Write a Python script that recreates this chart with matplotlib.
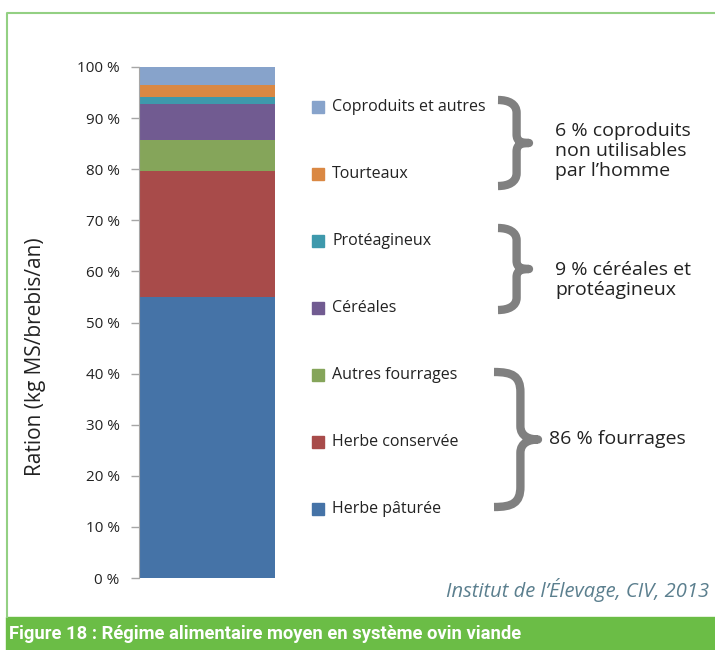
import matplotlib
matplotlib.use("Agg")
import matplotlib.pyplot as plt
from matplotlib.path import Path
from matplotlib.patches import PathPatch, Rectangle

categories = ["Herbe pâturée", "Herbe conservée", "Autres fourrages", "Céréales",
              "Protéagineux", "Tourteaux", "Coproduits et autres"]
shares = [55.0, 24.6, 6.1, 7.1, 1.3, 2.4, 3.5]
colors = ["#4573A7", "#A84B4A", "#85A55A", "#715B91", "#3E99AC", "#DA8843", "#87A3CB"]
yticks = [0, 10, 20, 30, 40, 50, 60, 70, 80, 90, 100]
ytick_labels = [f"{t} %" for t in yticks]

groups = ["6 % coproduits\nnon utilisables\npar l’homme",
          "9 % céréales et\nprotéagineux",
          "86 % fourrages"]

W, H = 715, 650
plt.rcParams["font.family"] = ["Open Sans", "DejaVu Sans"]

fig = plt.figure(figsize=(W / 100, H / 100), dpi=100)


def fx(px):
    return px / W


def fy(py):
    return 1 - py / H


ax = fig.add_axes([fx(139), fy(578), fx(275) - fx(139), fy(67) - fy(578)])

bottom = 0
for cat, val, col in zip(categories, shares, colors):
    ax.bar(0, val, width=1, bottom=bottom, color=col, label=cat)
    bottom += val

ax.set_xlim(-0.5, 0.5)
ax.set_ylim(0, 100)
ax.set_xticks([])
ax.set_yticks(yticks)
ax.set_yticklabels(ytick_labels, fontsize=11, color="#222222")
ax.tick_params(axis="y", length=6, width=1, color="#a6a6a6", pad=8)
for s in ["top", "right", "bottom"]:
    ax.spines[s].set_visible(False)
ax.spines["left"].set_color("#a6a6a6")

# y label sits a bit below the axes centre in the original
fig.text(fx(36), fy(357), "Ration (kg MS/brebis/an)", fontsize=15, color="#222222",
         rotation=90, ha="center", va="center")

# legend, top to bottom in reverse stacking order
for i, (cat, col) in enumerate(zip(categories[::-1], colors[::-1])):
    py = 107 + i * 67
    fig.patches.append(Rectangle((fx(312), fy(py + 6)), fx(12), 12 / H,
                                 transform=fig.transFigure, color=col))
    fig.text(fx(332), fy(py), cat, fontsize=11.5, color="#222222", va="center", ha="left")


def brace(x0, x1, y0, y1):
    # y0 top, y1 bottom in pixels
    xm = x0 + (x1 - x0) * 0.6
    ym = (y0 + y1) / 2
    h = y1 - y0
    pts = [(x0, y0), (xm - 8, y0), (xm, y0 + 4), (xm, y0 + 0.15 * h),
           (xm, ym - 0.1 * h),
           (xm, ym - 0.02 * h), (x1 - 8, ym), (x1, ym),
           (x1 - 8, ym), (xm, ym + 0.02 * h), (xm, ym + 0.1 * h),
           (xm, y1 - 0.15 * h),
           (xm, y1 - 4), (xm - 8, y1), (x0, y1)]
    codes = [Path.MOVETO, Path.CURVE4, Path.CURVE4, Path.CURVE4,
             Path.LINETO,
             Path.CURVE4, Path.CURVE4, Path.CURVE4,
             Path.CURVE4, Path.CURVE4, Path.CURVE4,
             Path.LINETO,
             Path.CURVE4, Path.CURVE4, Path.CURVE4]
    verts = [(fx(x), fy(y)) for x, y in pts]
    fig.patches.append(PathPatch(Path(verts, codes), transform=fig.transFigure,
                                 fill=False, lw=6, edgecolor="#808080",
                                 capstyle="butt", joinstyle="round"))


brace(498, 529, 100, 186)
brace(498, 529, 228, 310)
brace(494, 538, 372, 507)

fig.text(fx(555), fy(151), groups[0], fontsize=14, color="#222222",
         va="center", ha="left", linespacing=1.15)
fig.text(fx(555), fy(280), groups[1], fontsize=14, color="#222222",
         va="center", ha="left", linespacing=1.15)
fig.text(fx(549), fy(439), groups[2], fontsize=14, color="#222222",
         va="center", ha="left")

fig.text(fx(446), fy(590), "Institut de l’Élevage, CIV, 2013", fontsize=14.5,
         style="italic", color="#5b7f8e", va="center", ha="left")

# frame and caption banner
fig.add_artist(plt.Line2D([fx(7), fx(7), 1], [fy(617), fy(13), fy(13)],
                          transform=fig.transFigure, color="#93d083", lw=1.5))
fig.patches.append(Rectangle((fx(6), 0), 1, fy(617), transform=fig.transFigure,
                             color="#6bbd46"))
fig.text(fx(9), fy(634), "Figure 18 : Régime alimentaire moyen en système ovin viande",
         fontsize=13.2, fontweight="bold", color="white", va="center", ha="left",
         family=["Roboto", "DejaVu Sans"])

fig.savefig("out.png", dpi=100)
